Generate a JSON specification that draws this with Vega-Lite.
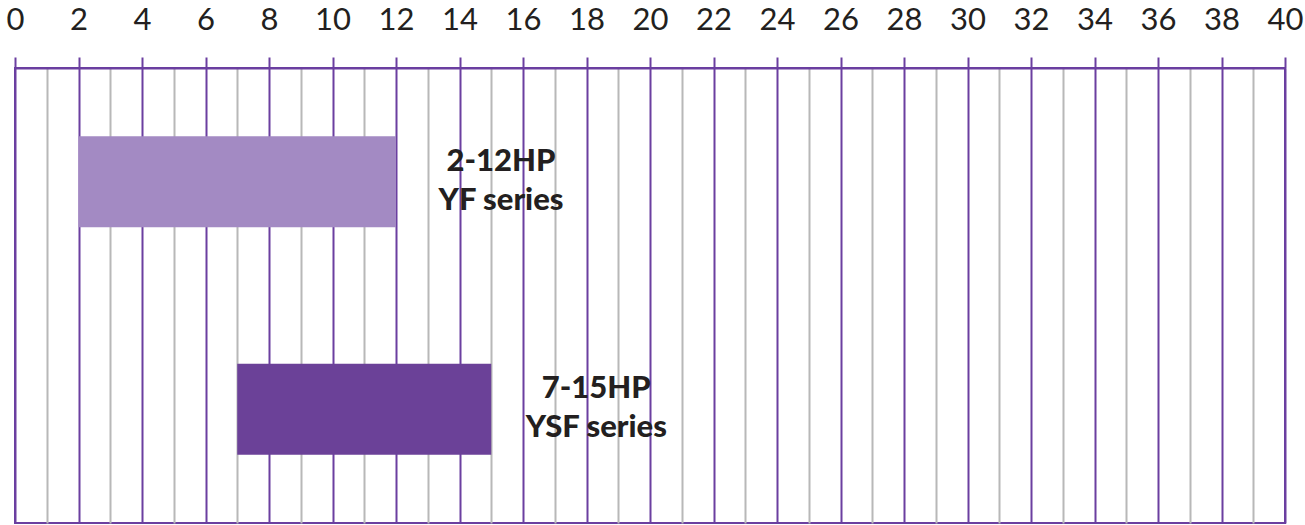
{
  "$schema": "https://vega.github.io/schema/vega-lite/v6.json",
  "autosize": "none",
  "width": 1270,
  "height": 455,
  "padding": {"left": 15, "top": 68, "right": 20, "bottom": 2},
  "background": "white",
  "view": {"stroke": "#6b3fa0", "strokeWidth": 2},
  "data": {
    "values": [
      {"series": "YF", "start": 2, "end": 12, "label": ["2-12HP", "YF series"]},
      {"series": "YSF", "start": 7, "end": 15, "label": ["7-15HP", "YSF series"]}
    ]
  },
  "encoding": {
    "y": {
      "field": "series",
      "type": "nominal",
      "sort": ["YF", "YSF"],
      "scale": {"paddingInner": 0.6, "paddingOuter": 0.3},
      "axis": null
    }
  },
  "layer": [
    {
      "mark": {"type": "bar", "cornerRadius": 0},
      "encoding": {
        "x": {
          "field": "start",
          "type": "quantitative",
          "scale": {"domain": [0, 40], "nice": false, "zero": false},
          "axis": {
            "orient": "top",
            "title": null,
            "tickCount": 100,
            "format": "d",
            "values": [0,1,2,3,4,5,6,7,8,9,10,11,12,13,14,15,16,17,18,19,20,21,22,23,24,25,26,27,28,29,30,31,32,33,34,35,36,37,38,39,40],
            "labelExpr": "datum.value % 2 === 0 ? datum.label : ''",
            "labelFont": "Lato",
            "labelFontSize": 31,
            "labelColor": "#231f20",
            "labelPadding": 21,
            "labelFlush": false,
            "labelOverlap": false,
            "domain": true,
            "domainColor": "#6b3fa0",
            "domainWidth": 2,
            "ticks": true,
            "tickSize": 11,
            "tickWidth": 2,
            "tickColor": "#6b3fa0",
            "tickOpacity": {"condition": {"test": "datum.value % 2 === 0", "value": 1}, "value": 0},
            "grid": true,
            "gridWidth": 2,
            "gridOpacity": 1,
            "gridColor": {"condition": {"test": "datum.value % 2 === 0", "value": "#6b3fa0"}, "value": "#b8b8b8"}
          }
        },
        "x2": {"field": "end"},
        "color": {
          "field": "series",
          "type": "nominal",
          "scale": {"domain": ["YF", "YSF"], "range": ["#a38ac3", "#6b4198"]},
          "legend": null
        }
      }
    },
    {
      "mark": {
        "type": "text",
        "align": "center",
        "baseline": "middle",
        "dx": 105,
        "dy": -20,
        "font": "Lato",
        "fontWeight": 900,
        "fontSize": 31,
        "lineHeight": 39,
        "color": "#231f20"
      },
      "encoding": {
        "x": {"field": "end", "type": "quantitative"},
        "text": {"field": "label"}
      }
    }
  ]
}
